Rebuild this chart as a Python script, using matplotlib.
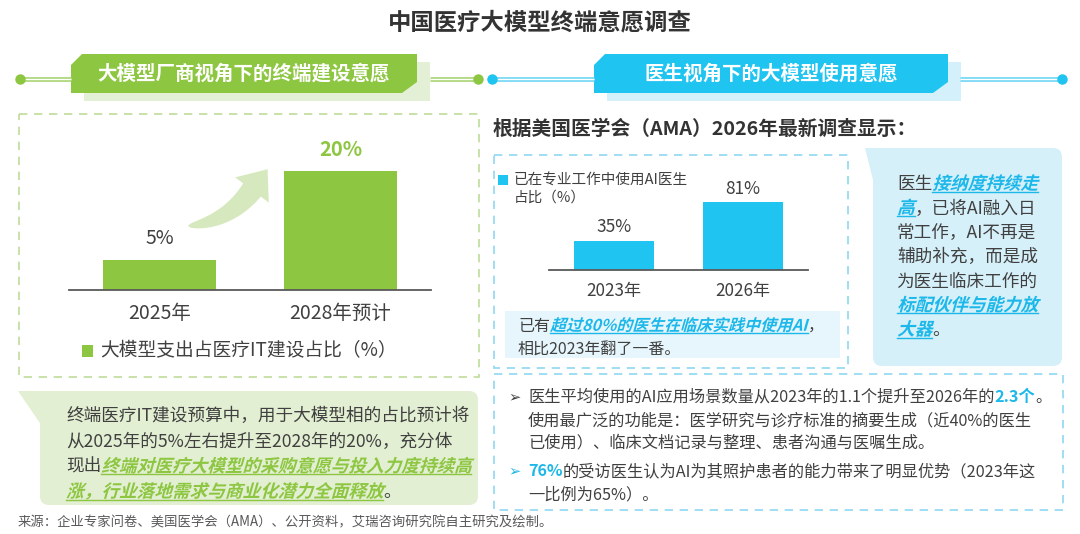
import numpy as np
import matplotlib.pyplot as plt
import matplotlib.patches as mpatches
from matplotlib.font_manager import FontProperties
from matplotlib.textpath import TextPath
from matplotlib.transforms import Affine2D

FAM = ['Noto Sans CJK SC', 'DejaVu Sans']
plt.rcParams['font.family'] = FAM

# data
left_years = ['2025年', '2028年预计']
left_share = [5, 20]
left_labels = ['5%', '20%']
right_years = ['2023年', '2026年']
right_share = [35, 81]
right_labels = ['35%', '81%']

# text blocks, kind: n normal, g green emphasis, b blue emphasis, bb blue bold
left_note = [
    [("终端医疗IT建设预算中，用于大模型相的占比预计将", 'n')],
    [("从2025年的5%左右提升至2028年的20%，充分体", 'n')],
    [("现出", 'n'), ("终端对医疗大模型的采购意愿与投入力度持续高", 'g')],
    [("涨，行业落地需求与商业化潜力全面释放", 'g'), ("。", 'n')],
]
inner_note = [
    [("已有", 'n'), ("超过80%的医生在临床实践中使用AI", 'b'), ("，", 'n')],
    [("相比2023年翻了一番。", 'n')],
]
side_note = [
    [("医生", 'n'), ("接纳度持续走", 'b')],
    [("高", 'b'), ("，已将AI融入日", 'n')],
    [("常工作，AI不再是", 'n')],
    [("辅助补充，而是成", 'n')],
    [("为医生临床工作的", 'n')],
    [("标配伙伴与能力放", 'b')],
    [("大器", 'b'), ("。", 'n')],
]
bullets = [
    [("医生平均使用的AI应用场景数量从2023年的1.1个提升至2026年的", 'n'), ("2.3个", 'bb'), ("。", 'n')],
    [("使用最广泛的功能是：医学研究与诊疗标准的摘要生成（近40%的医生", 'n')],
    [("已使用）、临床文档记录与整理、患者沟通与医嘱生成。", 'n')],
    [("76%", 'bb'), ("的受访医生认为AI为其照护患者的能力带来了明显优势（2023年这", 'n')],
    [("一比例为65%）。", 'n')],
]

GREEN = '#8dc641'
GREEN_LT = '#e3efd2'
GREEN_SH = '#e4f0d6'
BLUE = '#1fc4f0'
BLUE_T = '#1db8ea'
BLUE_LT = '#d6f0fa'
DARK = '#404040'

W, H = 1080, 534
fig = plt.figure(figsize=(W / 100, H / 100), dpi=100)
bg = fig.add_axes([0, 0, 1, 1])
bg.set_xlim(0, W)
bg.set_ylim(H, 0)
bg.axis('off')
renderer = fig.canvas.get_renderer()


def px_axes(x0, y0, x1, y1):
    a = fig.add_axes([x0 / W, 1 - y1 / H, (x1 - x0) / W, (y1 - y0) / H])
    a.patch.set_alpha(0)
    return a


def rich(x, y, parts, size):
    px = size * 100 / 72
    base = y + 0.36 * px
    for s, kind in parts:
        bold = kind != 'n'
        color = DARK if kind == 'n' else (GREEN if kind == 'g' else BLUE_T)
        prop = FontProperties(family=FAM, size=size, weight='bold' if bold else 'normal')
        w = renderer.get_text_width_height_descent(s, prop, ismath=False)[0]
        if kind in ('g', 'b'):
            # slanted text (CJK fonts have no italic face)
            tp = TextPath((0, 0), s, size=px, prop=prop)
            tr = Affine2D().skew_deg(16, 0).scale(1, -1).translate(x, base)
            bg.add_patch(mpatches.PathPatch(tr.transform_path(tp), fc=color, ec='none', lw=0))
            bg.plot([x, x + w], [base + 0.14 * px] * 2, color=color, lw=1)
        else:
            bg.text(x, base, s, fontproperties=prop, color=color, va='baseline', ha='left')
        x += w


def banner(x0, x1, y0, y1, color, shadow):
    bg.add_patch(mpatches.Rectangle((x0 + 13, y0 + 8), x1 - x0, y1 - y0, fc=shadow, ec='none'))
    pts = [(x0, y0 + 11), (x0 + 11, y0), (x1, y0), (x1, y1 - 11), (x1 - 15, y1), (x0, y1)]
    bg.add_patch(mpatches.Polygon(pts, closed=True, fc=color, ec='none'))


def hline(xa, xb, y, color):
    bg.plot([xa, xb], [y, y], color=color, lw=3.4, solid_capstyle='butt')
    bg.plot([xa, xb], [y, y], color='white', lw=1.0, solid_capstyle='butt')


# title
bg.text(540, 22, '中国医疗大模型终端意愿调查', fontsize=16.8, fontweight='bold',
        color='#333333', ha='center', va='center')

# headers
hline(20, 71, 79, '#a9d473')
hline(430, 478, 79, '#a9d473')
bg.plot([20, 478], [79, 79], 'o', ms=6.5, color=GREEN, ls='none')
banner(71, 417, 54, 93, GREEN, GREEN_SH)
bg.text(244, 74, '大模型厂商视角下的终端建设意愿', fontsize=14, fontweight='bold',
        color='white', ha='center', va='center')

hline(492, 594, 79, '#6fd6f4')
hline(960, 1062, 79, '#6fd6f4')
bg.plot([492, 1062], [79, 79], 'o', ms=6.5, color=BLUE, ls='none')
banner(594, 948, 54, 93, BLUE, '#d4f1fb')
bg.text(771, 74, '医生视角下的大模型使用意愿', fontsize=14, fontweight='bold',
        color='white', ha='center', va='center')

# dashed boxes
dash = (0, (5, 4))
bg.add_patch(mpatches.Rectangle((19, 114), 460, 263, fill=False, ec='#bfdc99', lw=1.2, ls=dash))
bg.add_patch(mpatches.Rectangle((494, 155), 354, 213, fill=False, ec='#8fd8f1', lw=1.2, ls=dash))
bg.add_patch(mpatches.Rectangle((494, 374), 569, 136, fill=False, ec='#8fd8f1', lw=1.2, ls=dash))

# curved arrow (decoration)
P0, P1, P2 = np.array([188, 226.]), np.array([228, 222.]), np.array([252, 190.])
t = np.linspace(0, 1, 40)
curve = ((1 - t) ** 2)[:, None] * P0 + (2 * (1 - t) * t)[:, None] * P1 + (t ** 2)[:, None] * P2
d = 2 * (1 - t)[:, None] * (P1 - P0) + 2 * t[:, None] * (P2 - P1)
d /= np.linalg.norm(d, axis=1)[:, None]
n = np.column_stack([-d[:, 1], d[:, 0]])
wd = 11 * t ** 0.5
upper = curve + n * wd[:, None]
lower = curve - n * wd[:, None]
tip = P2 + d[-1] * 26
poly = np.vstack([upper, P2 + n[-1] * 21, tip, P2 - n[-1] * 21, lower[::-1]])
bg.add_patch(mpatches.Polygon(poly, closed=True, fc='#d6e9be', ec='none'))

# left bar chart
axL = px_axes(69, 290 - 149, 431, 290)
axL.bar(range(len(left_share)), left_share, width=0.625, color=GREEN)
axL.set_xlim(-0.5, 1.5)
axL.set_ylim(0, 25)
for s in ['top', 'right', 'left']:
    axL.spines[s].set_visible(False)
axL.spines['bottom'].set_color('#595959')
axL.spines['bottom'].set_linewidth(1.3)
axL.set_yticks([])
axL.set_xticks(range(len(left_years)), left_years, fontsize=14, color=DARK)
axL.tick_params(axis='x', length=0, pad=9.5)
for i, v in enumerate(left_share):
    last = i == len(left_share) - 1
    axL.annotate(left_labels[i], (i, v), xytext=(0, 8), textcoords='offset points',
                 ha='center', va='bottom', fontsize=14.5 if last else 14,
                 fontweight='bold' if last else 'normal', color=GREEN if last else DARK)

bg.add_patch(mpatches.Rectangle((82, 345), 11, 12, fc=GREEN, ec='none'))
bg.text(100, 351, '大模型支出占医疗IT建设占比（%）', fontsize=13.5, color=DARK, va='center')

# left note
bg.add_patch(mpatches.Polygon([(18, 391), (62, 391), (42, 426)], closed=True, fc=GREEN_LT, ec='none'))
bg.add_patch(mpatches.FancyBboxPatch((40, 391), 438, 114, boxstyle='round,pad=0,rounding_size=9',
                                     fc=GREEN_LT, ec='none'))
for k, line in enumerate(left_note):
    rich(66, 415 + k * 25.3, line, 12.7)

# right heading
bg.text(493, 129, '根据美国医学会（AMA）2026年最新调查显示：', fontsize=14.2,
        fontweight='bold', color='#333333', va='center')

# right bar chart
axR = px_axes(549, 270 - 84, 808, 270)
axR.bar(range(len(right_share)), right_share, width=0.62, color=BLUE)
axR.set_xlim(-0.5, 1.5)
axR.set_ylim(0, 100)
for s in ['top', 'right', 'left']:
    axR.spines[s].set_visible(False)
axR.spines['bottom'].set_color('#595959')
axR.spines['bottom'].set_linewidth(1.3)
axR.set_yticks([])
axR.set_xticks(range(len(right_years)), right_years, fontsize=12.3, color=DARK)
axR.tick_params(axis='x', length=0, pad=8.5)
for i, v in enumerate(right_share):
    axR.annotate(right_labels[i], (i, v), xytext=(0, 3), textcoords='offset points',
                 ha='center', va='bottom', fontsize=12.5, color=DARK)

bg.add_patch(mpatches.Rectangle((498, 175), 10, 9.5, fc=BLUE, ec='none'))
bg.text(514, 179.5, '已在专业工作中使用AI医生', fontsize=10.5, color=DARK, va='center')
bg.text(514, 197.5, '占比（%）', fontsize=10.5, color=DARK, va='center')

# inner note
bg.add_patch(mpatches.Rectangle((505, 311), 335, 47, fc='#e6f6fc', ec='none'))
for k, line in enumerate(inner_note):
    rich(518, 325 + k * 23.5, line, 11.5)

# side note
bg.add_patch(mpatches.Polygon([(865, 148), (905, 148), (874, 184)], closed=True, fc=BLUE_LT, ec='none'))
bg.add_patch(mpatches.FancyBboxPatch((873, 148), 189, 218, boxstyle='round,pad=0,rounding_size=9',
                                     fc=BLUE_LT, ec='none'))
for k, line in enumerate(side_note):
    rich(897, 183 + k * 24.3, line, 12.7)

# bullets
bullet_y = [396, 419, 442, 470, 494]
for k, line in enumerate(bullets):
    if k in (0, 3):
        bg.text(508, bullet_y[k] + 1, '➢', fontsize=10.5, va='center', family=['DejaVu Sans'],
                color=DARK if k == 0 else BLUE_T)
    rich(528, bullet_y[k], line, 11.7)

# source
bg.text(18, 522, '来源：企业专家问卷、美国医学会（AMA）、公开资料，艾瑞咨询研究院自主研究及绘制。',
        fontsize=9.6, color='#595959', va='center')

fig.savefig('out.png', dpi=100)
